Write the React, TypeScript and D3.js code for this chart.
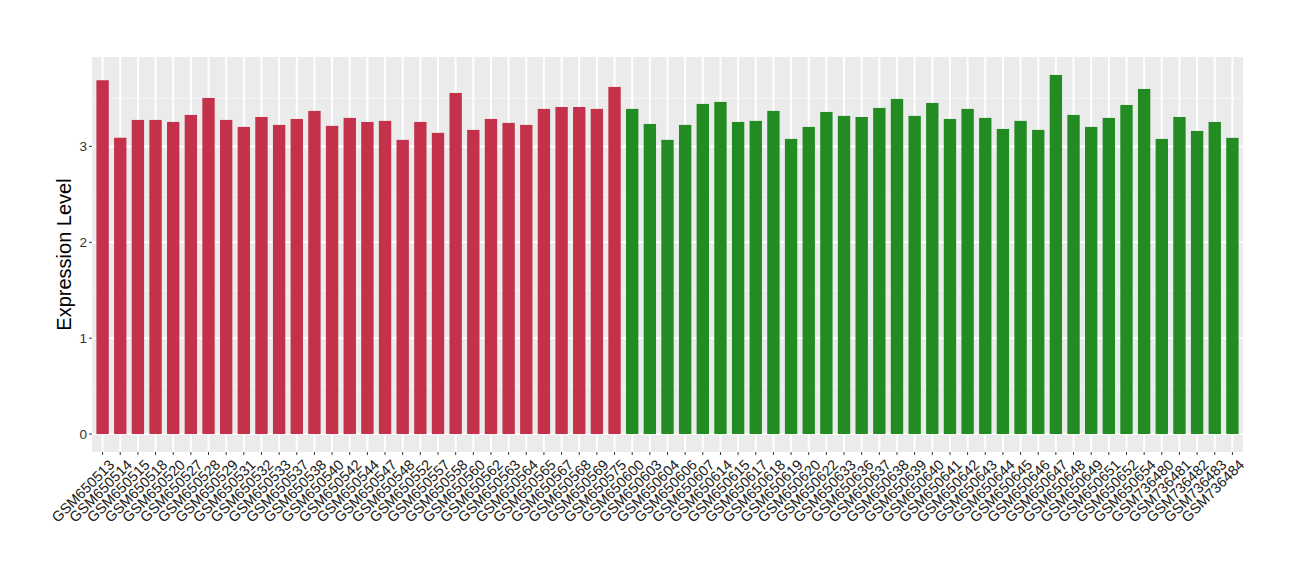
import React from "react";
import * as d3 from "d3";

const samples: string[] = [
  "GSM650513","GSM650514","GSM650515","GSM650518","GSM650520","GSM650527","GSM650528","GSM650529","GSM650531","GSM650532",
  "GSM650533","GSM650537","GSM650538","GSM650540","GSM650542","GSM650544","GSM650547","GSM650548","GSM650552","GSM650557",
  "GSM650558","GSM650560","GSM650562","GSM650563","GSM650564","GSM650565","GSM650567","GSM650568","GSM650569","GSM650575",
  "GSM650600","GSM650603","GSM650604","GSM650606","GSM650607","GSM650614","GSM650615","GSM650617","GSM650618","GSM650619",
  "GSM650620","GSM650622","GSM650633","GSM650636","GSM650637","GSM650638","GSM650639","GSM650640","GSM650641","GSM650642",
  "GSM650643","GSM650644","GSM650645","GSM650646","GSM650647","GSM650648","GSM650649","GSM650651","GSM650652","GSM650654",
  "GSM736480","GSM736481","GSM736482","GSM736483","GSM736484",
];

const values: number[] = [
  3.69, 3.09, 3.276, 3.276, 3.255, 3.328, 3.505, 3.276, 3.203, 3.307,
  3.224, 3.286, 3.37, 3.214, 3.297, 3.255, 3.266, 3.068, 3.255, 3.141,
  3.557, 3.172, 3.286, 3.245, 3.224, 3.391, 3.411, 3.411, 3.391, 3.62,
  3.391, 3.234, 3.068, 3.224, 3.443, 3.464, 3.255, 3.266, 3.37, 3.078,
  3.203, 3.359, 3.318, 3.307, 3.401, 3.495, 3.318, 3.453, 3.286, 3.391,
  3.297, 3.182, 3.266, 3.172, 3.745, 3.328, 3.203, 3.297, 3.432, 3.599,
  3.078, 3.307, 3.161, 3.255, 3.089,
];

const groups: string[] = [
  ...Array(30).fill("A"),
  ...Array(35).fill("B"),
];

const groupColors: Record<string, string> = { A: "#C3314A", B: "#228B22" };

const yTicks: number[] = [0, 1, 2, 3];
const yLabel = "Expression Level";

export default function App() {
  const W = 1300;
  const H = 580;
  const left = 92;
  const right = 1243;
  const top = 57;
  const bottom = 452;

  const maxV = d3.max(values) as number;
  const pad = maxV * 0.05;
  const y = d3.scaleLinear().domain([-pad, maxV + pad]).range([bottom, top]);

  const n = samples.length;
  const x = d3
    .scaleLinear()
    .domain([-0.6, n - 1 + 0.6])
    .range([left, right]);
  const barW = (x(1) - x(0)) * 0.7;

  const minorTicks = d3.range(0.5, maxV + pad, 1);
  const font = "'Liberation Sans', Arial, Helvetica, sans-serif";

  return (
    <svg width={W} height={H} style={{ position: "absolute", left: 0, top: 0 }} fontFamily={font}>
      <rect x={0} y={0} width={W} height={H} fill="white" />
      <rect x={left} y={top} width={right - left} height={bottom - top} fill="#EBEBEB" />
      {minorTicks.map((t) => (
        <line key={"mn" + t} x1={left} x2={right} y1={y(t)} y2={y(t)} stroke="#F5F5F5" strokeWidth={1} />
      ))}
      {yTicks.map((t) => (
        <line key={"mj" + t} x1={left} x2={right} y1={y(t)} y2={y(t)} stroke="white" strokeWidth={2} />
      ))}
      {samples.map((s, i) => (
        <line key={"vx" + s} x1={x(i)} x2={x(i)} y1={top} y2={bottom} stroke="white" strokeWidth={2} />
      ))}
      {samples.map((s, i) => (
        <rect
          key={"b" + s}
          x={x(i) - barW / 2}
          width={barW}
          y={y(values[i])}
          height={y(0) - y(values[i])}
          fill={groupColors[groups[i]]}
        />
      ))}
      {yTicks.map((t) => (
        <g key={"yt" + t}>
          <line x1={left - 3} x2={left} y1={y(t)} y2={y(t)} stroke="#333333" strokeWidth={1} />
          <text x={left - 5} y={y(t)} dy="0.36em" textAnchor="end" fontSize={13.5} fill="#333333">
            {t}
          </text>
        </g>
      ))}
      {samples.map((s, i) => (
        <g key={"xt" + s}>
          <line x1={x(i)} x2={x(i)} y1={bottom} y2={bottom + 3} stroke="#333333" strokeWidth={1} />
          <text
            transform={`translate(${x(i) + 5},${bottom + 6}) rotate(-45)`}
            textAnchor="end"
            dy="0.75em"
            fontSize={14.5}
            fill="#1A1A1A"
          >
            {s}
          </text>
        </g>
      ))}
      <text
        transform={`translate(${71},${(top + bottom) / 2}) rotate(-90)`}
        textAnchor="middle"
        fontSize={20}
        fill="black"
      >
        {yLabel}
      </text>
    </svg>
  );
}
